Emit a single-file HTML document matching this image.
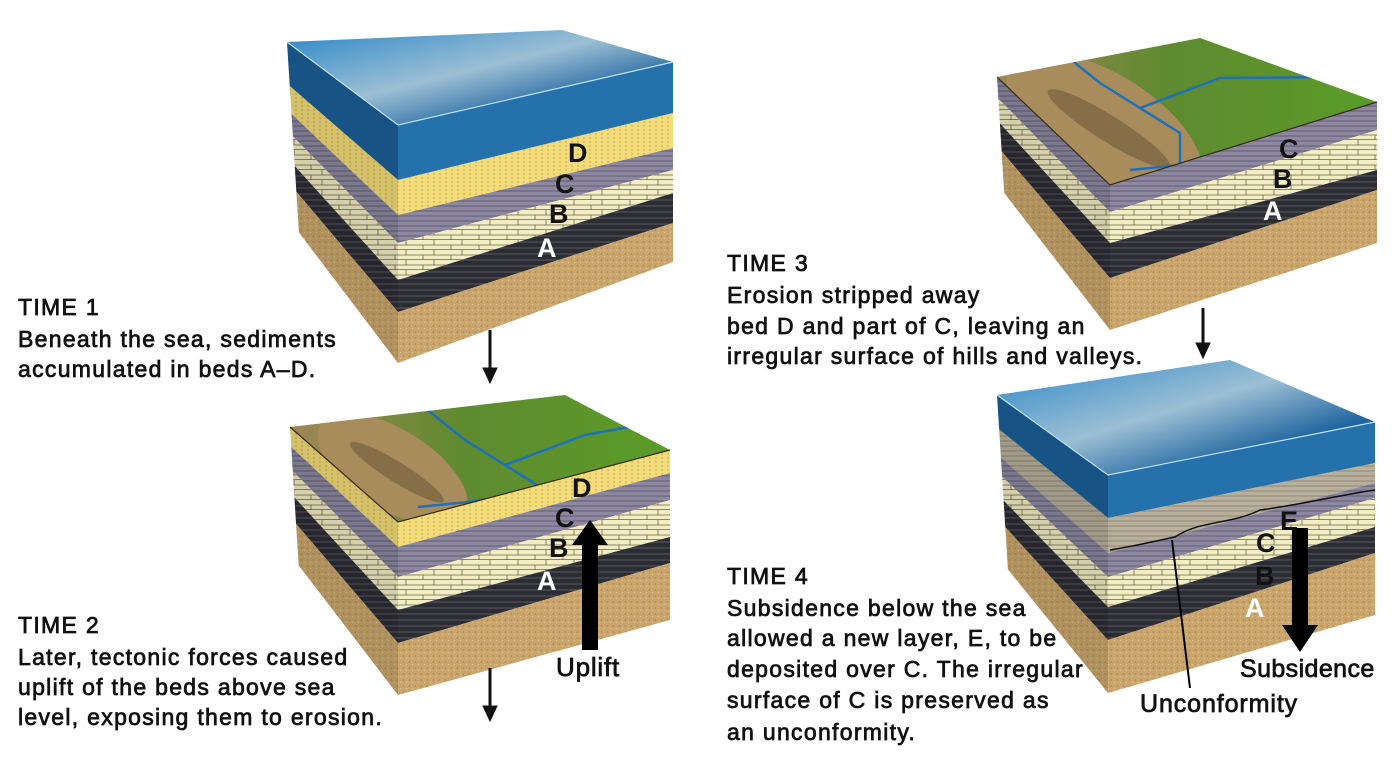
<!DOCTYPE html>
<html><head><meta charset="utf-8">
<style>
html,body{margin:0;padding:0;background:#fff;}
svg{display:block;}
.t{font-family:"Liberation Sans","DejaVu Sans",sans-serif;font-size:23px;letter-spacing:1.3px;fill:#111;stroke:#111;stroke-width:0.75px;}
.lab{font-family:"Liberation Sans",sans-serif;font-size:27px;font-weight:bold;}
</style></head>
<body>
<svg id="fig" width="1400" height="758" viewBox="0 0 1400 758" xmlns="http://www.w3.org/2000/svg">
<defs id="defs">
<pattern id="brick" width="28" height="10" patternUnits="userSpaceOnUse">
<rect width="28" height="10" fill="#f3edc4"/>
<path d="M0 9.5H28M14 0V5M0 5H28M3 5V10" stroke="#6b6448" stroke-width="0.8" fill="none"/>
</pattern>
<pattern id="purp" width="10" height="5" patternUnits="userSpaceOnUse">
<rect width="10" height="5" fill="#8d88a0"/><path d="M0 1H10" stroke="#6d6880" stroke-width="1.4"/>
</pattern>
<pattern id="dark" width="10" height="6" patternUnits="userSpaceOnUse">
<rect width="10" height="6" fill="#2c2c33"/><path d="M0 2H10" stroke="#5a5a66" stroke-width="1"/>
</pattern>
<pattern id="yel" width="6" height="4" patternUnits="userSpaceOnUse">
<rect width="6" height="4" fill="#f2dc7c"/><circle cx="2" cy="2" r="0.7" fill="#c99a20"/>
</pattern>
<pattern id="sand" width="6" height="6" patternUnits="userSpaceOnUse">
<rect width="6" height="6" fill="#caa56c"/><circle cx="1.5" cy="2" r="0.8" fill="#a8834c"/><circle cx="4.5" cy="4.5" r="0.7" fill="#e0c494"/>
</pattern>
<pattern id="egray" width="10" height="5" patternUnits="userSpaceOnUse">
<rect width="10" height="5" fill="#b9b09c"/><path d="M0 1H10" stroke="#8e8676" stroke-width="1"/>
</pattern>
<linearGradient id="waterTop" x1="0" y1="0" x2="1" y2="1">
<stop offset="0" stop-color="#2a86c8"/><stop offset="0.45" stop-color="#9cbfd4"/><stop offset="0.75" stop-color="#1f64a0"/><stop offset="1" stop-color="#3a9ad8"/>
</linearGradient>
<linearGradient id="land" x1="0" y1="0" x2="1" y2="0">
<stop offset="0" stop-color="#a08656"/><stop offset="0.45" stop-color="#5f8a30"/><stop offset="1" stop-color="#5a9c28"/>
</linearGradient>
</defs>
<g id="blocks"></g>
</svg>
<script>
const layerFills = {water:'#1c5f98', D:'url(#yel)', C:'url(#purp)', B:'url(#brick)', A:'url(#dark)', sand:'url(#sand)', E:'url(#egray)'};
const b1Layers = ['water','D','C','B','A','sand'];
const b1Front = [180,215,243,280,312,363];
const b1Right = [113,148,170,193,223,262];
const b2Layers = ['D','C','B','A','sand'];
const b2Front = [547,577,610,643,695];
const b2Right = [473,500,537,563,620];
const b3Layers = ['C','B','A','sand'];
const b3Front = [212,243,278,330];
const b3Right = [130,170,190,243];
const b4Layers = ['water','E','C','B','A','sand'];
const b4Front = [518,553,577,607,640,693];
const b4Right = [463,483,498,527,553,615];

const blocks = [
 {name:'time1-block', L:[287,42], F:[398,125], R:[673,62], Bk:[562,30], layers:b1Layers, front:b1Front, right:b1Right, top:'water', mtn:0},
 {name:'time2-block', L:[290,427], F:[398,522], R:[670,450], Bk:[565,395], layers:b2Layers, front:b2Front, right:b2Right, top:'land', mtn:1},
 {name:'time3-block', L:[997,77], F:[1110,185], R:[1377,102], Bk:[1200,38], layers:b3Layers, front:b3Front, right:b3Right, top:'land', mtn:1.3},
 {name:'time4-block', L:[997,395], F:[1108,475], R:[1375,422], Bk:[1230,360], layers:b4Layers, front:b4Front, right:b4Right, top:'water', mtn:0}
];
const NS='http://www.w3.org/2000/svg';
const root=document.getElementById('blocks');
const defs=document.getElementById('defs');
function mk(tag, attrs, parent){const e=document.createElementNS(NS,tag);for(const k in attrs)e.setAttribute(k,attrs[k]);parent.appendChild(e);return e;}
blocks.forEach((b,bi)=>{
 const g=mk('g',{},root);
 
 
 const leftY = y => b.L[1] + (y - b.F[1]) * 0.8;
 const leftX = y => b.L[0] + (y - b.F[1]) * 0.05;
 let pf=b.F[1], pr=b.R[1];
 b.layers.forEach((ly,i)=>{
  const yf=b.front[i], yr=b.right[i];
  const fill=layerFills[ly];
  const rp=mk('polygon',{points:`${b.F[0]},${pf} ${b.R[0]},${pr} ${b.R[0]},${yr} ${b.F[0]},${yf}`, fill:fill},g);
  
  
  const lp=mk('polygon',{points:`${leftX(pf)},${leftY(pf)} ${b.F[0]},${pf} ${b.F[0]},${yf} ${leftX(yf)},${leftY(yf)}`, fill:fill},g);
  
  
  pf=yf; pr=yr;
 });
 const sh=mk('polygon',{points:`${b.L[0]},${b.L[1]} ${b.F[0]},${b.F[1]} ${b.F[0]},${pf} ${leftX(pf)},${leftY(pf)}`, fill:'#000', 'fill-opacity':0.12},g);
 
 
 const topPts=`${b.L[0]},${b.L[1]} ${b.Bk[0]},${b.Bk[1]} ${b.R[0]},${b.R[1]} ${b.F[0]},${b.F[1]}`;
 if(b.top==='water'){
  const t=mk('polygon',{points:topPts, fill:'url(#waterTop)'},g);
  
  
  const wf=mk('polygon',{points:`${b.F[0]},${b.F[1]} ${b.R[0]},${b.R[1]} ${b.R[0]},${b.right[0]} ${b.F[0]},${b.front[0]}`, fill:'#3d9ad6','fill-opacity':0.3},g);
  
  
  mk('polyline',{points:`${b.L[0]},${b.L[1]} ${b.F[0]},${b.F[1]} ${b.R[0]},${b.R[1]}`, fill:'none', stroke:'#bfe4f8','stroke-width':1.2},g);
 } else {
  const cp=mk('clipPath',{id:'clip'+bi},defs);
  mk('polygon',{points:topPts},cp);
  const t=mk('polygon',{points:topPts, fill:'url(#land)'},g);
  
  
  const lg=mk('g',{'clip-path':`url(#clip${bi})`},g);
  const s=b.mtn;
  const mx=b.L[0]+(b.F[0]-b.L[0])*0.95, my=(b.L[1]+b.F[1])/2-5;
  const m=mk('ellipse',{cx:mx, cy:my, rx:85*s, ry:40*s, fill:'#a98c5c', transform:`rotate(32 ${mx} ${my})`},lg);
  
  
  const m2=mk('ellipse',{cx:mx+5, cy:my, rx:55*s, ry:10*s, fill:'#5c4a30','fill-opacity':0.45, transform:`rotate(32 ${mx} ${my})`},lg);
  
  
  const rv=mk('polyline',{points:`${b.Bk[0]-150},${b.Bk[1]+5} ${b.Bk[0]-100},${b.Bk[1]+45} ${b.Bk[0]-60},${b.Bk[1]+70} ${b.Bk[0]-20},${b.Bk[1]+95} ${b.F[0]+70},${b.F[1]-20} ${b.F[0]+20},${b.F[1]-15}`, fill:'none', stroke:'#1e70b8','stroke-width':2.5},lg);
  
  
  const rv2=mk('polyline',{points:`${b.Bk[0]-60},${b.Bk[1]+70} ${b.Bk[0]+20},${b.Bk[1]+40} ${b.R[0]-30},${b.R[1]-25}`, fill:'none', stroke:'#1e70b8','stroke-width':2.5},lg);
  
  
  mk('polyline',{points:`${b.L[0]},${b.L[1]} ${b.F[0]},${b.F[1]} ${b.R[0]},${b.R[1]}`, fill:'none', stroke:'#3a2a10','stroke-width':1.2},g);
 }
});
</script>
<svg width="1400" height="758" style="position:absolute;left:0;top:0" xmlns="http://www.w3.org/2000/svg">
<g class="t">
<text x="18" y="315">TIME 1</text><text x="18" y="347">Beneath the sea, sediments</text><text x="18" y="377">accumulated in beds A–D.</text></g>
<g class="t">
<text x="18" y="633">TIME 2</text><text x="18" y="665">Later, tectonic forces caused</text><text x="18" y="695">uplift of the beds above sea</text><text x="18" y="725">level, exposing them to erosion.</text></g>
<g class="t">
<text x="727" y="271">TIME 3</text><text x="727" y="303">Erosion stripped away</text><text x="727" y="334">bed D and part of C, leaving an</text><text x="727" y="364">irregular surface of hills and valleys.</text></g>
<g class="t">
<text x="727" y="584">TIME 4</text><text x="727" y="616">Subsidence below the sea</text><text x="727" y="646">allowed a new layer, E, to be</text><text x="727" y="677">deposited over C. The irregular</text><text x="727" y="708">surface of C is preserved as</text><text x="727" y="740">an unconformity.</text></g>
<g fill="#111" stroke="#111">
<line x1="490" y1="330" x2="490" y2="370" stroke-width="3"/><polygon points="483,368 497,368 490,383"/>
<line x1="490" y1="668" x2="490" y2="708" stroke-width="3"/><polygon points="483,706 497,706 490,721"/>
<line x1="1203" y1="308" x2="1203" y2="345" stroke-width="3"/><polygon points="1196,343 1210,343 1203,358"/>
</g>
<g fill="#000">
<polygon points="582,650 598,650 598,545 608,545 590,520 572,545 582,545"/></g>
<text class="t" x="556" y="676" style="font-size:26px;letter-spacing:0.8px">Uplift</text>
<g fill="#000">
<polygon points="1292,528 1308,528 1308,625 1318,625 1300,652 1282,625 1292,625"/></g>
<text class="t" x="1240" y="677" style="font-size:25px;letter-spacing:0.4px">Subsidence</text>
<line x1="1172" y1="540" x2="1190" y2="688" stroke="#000" stroke-width="2"/>
<path d="M1110,550 C1140,545 1160,540 1175,537 C1200,520 1230,525 1260,510 C1300,505 1340,495 1375,490" fill="none" stroke="#111" stroke-width="1.5"/>
<text class="t" x="1140" y="712" style="font-size:25px;letter-spacing:0.9px">Unconformity</text>
<g class="lab">
<text x="568" y="162" fill="#111">D</text><text x="555" y="193" fill="#111">C</text><text x="549" y="223" fill="#111">B</text><text x="537" y="257" fill="#fff">A</text>
<text x="572" y="497" fill="#111">D</text><text x="555" y="527" fill="#111">C</text><text x="549" y="557" fill="#111">B</text><text x="537" y="590" fill="#fff">A</text>
<text x="1279" y="158" fill="#111">C</text><text x="1273" y="188" fill="#111">B</text><text x="1263" y="220" fill="#fff">A</text>
<text x="1280" y="530" fill="#111">E</text><text x="1256" y="552" fill="#111">C</text><text x="1255" y="585" fill="#111">B</text><text x="1245" y="617" fill="#fff">A</text>
</g>
</svg>
</body></html>
